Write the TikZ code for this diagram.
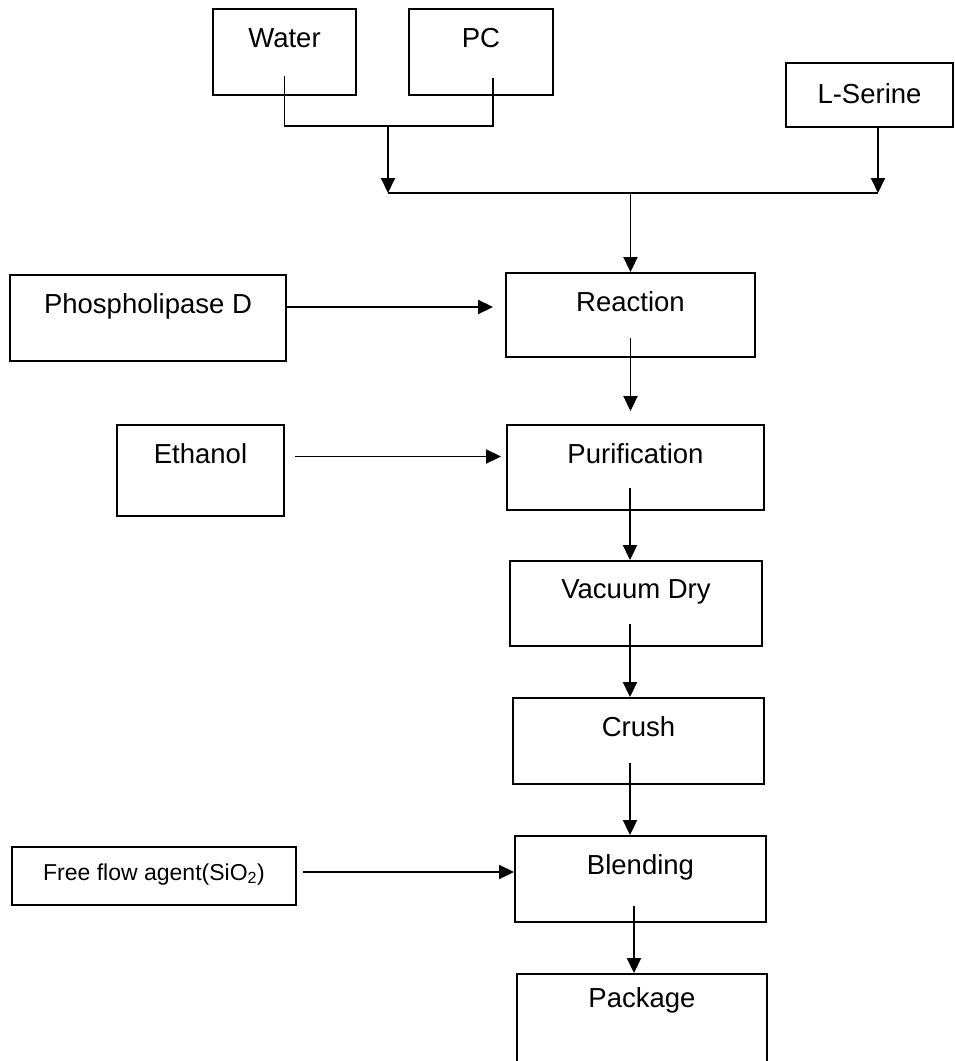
\documentclass[tikz,border=0pt]{standalone}
\usepackage{fontspec}
\setmainfont{Liberation Sans}
\usetikzlibrary{calc,arrows.meta}

\begin{document}
\begin{tikzpicture}[x=1pt, y=-1pt, line width=1.9pt,
    stepbox/.style={draw, anchor=base, inner sep=0pt, minimum width=#1,
    text height=38pt, text depth=48pt}, >={Triangle[length=15pt,width=14pt]},
    font=\fontsize{27.5}{33}\selectfont]

  \useasboundingbox (0,0) rectangle (954,1061);

  \node[stepbox=143pt] (W) at (284.5,47) {Water};
  \node[stepbox=144pt] (PC) at (481,47) {PC};
  \node[stepbox=167pt, text height=40pt, text depth=24pt] (LS) at (869.5,103) {L-Serine};
  \node[stepbox=276pt] (PD) at (148,313) {Phospholipase D};
  \node[stepbox=249pt, text depth=46pt] (R) at (630.5,311) {Reaction};
  \node[stepbox=167pt, text depth=53pt] (E) at (200.5,463) {Ethanol};
  \node[stepbox=257pt, text depth=47pt] (P) at (635.5,463) {Purification};
  \node[stepbox=252pt, text height=37pt] (V) at (636,598) {Vacuum Dry};
  \node[stepbox=251pt] (C) at (638.5,736) {Crush};
  \node[stepbox=284pt, text height=33pt, text depth=25pt,
    font=\fontsize{23}{27}\selectfont] (F) at (154,880) {Free flow agent(SiO\textsubscript{2})};
  \node[stepbox=251pt] (B) at (640.5,874) {Blending};
  \node[stepbox=250pt, text height=33pt, text depth=90pt] (K) at (642,1007) {Package};

  \coordinate (mix) at (388,126);
  \coordinate (busL) at (388,193);
  \coordinate (busR) at ([xshift=8.5pt]LS.south |- busL);

  \draw ([yshift=20pt]W.south) |- (mix) -| ([xshift=12pt,yshift=18pt]PC.south);
  \draw[->] (mix) -- (busL);
  \draw[->] ([xshift=8.5pt]LS.south) -- (busR);
  \draw (busL) -- (busR);
  \draw[->] (busL -| R.north) -- (R.north);
  \draw[->, shorten >=12pt] ([yshift=11pt]PD.east) -- ([yshift=11pt]PD.east -| R.west);
  \draw[->, shorten >=13pt] ([yshift=20pt]R.south) -- (R.south |- P.north);
  \draw[->, shorten >=5pt] ([xshift=10pt,yshift=14pt]E.east) -- ([yshift=14pt]E.east -| P.west);
  \draw[->] ([xshift=-5.5pt,yshift=23pt]P.south) -- ([xshift=-5.5pt]P.south |- V.north);
  \draw[->] ([xshift=-6pt,yshift=23pt]V.south) -- ([xshift=-6pt]V.south |- C.north);
  \draw[->] ([xshift=-8.5pt,yshift=22pt]C.south) -- ([xshift=-8.5pt]C.south |- B.north);
  \draw[->] ([xshift=6pt,yshift=4pt]F.east) -- ([yshift=4pt]F.east -| B.west);
  \draw[->] ([xshift=-6.5pt,yshift=17pt]B.south) -- ([xshift=-6.5pt]B.south |- K.north);
\end{tikzpicture}
\end{document}
